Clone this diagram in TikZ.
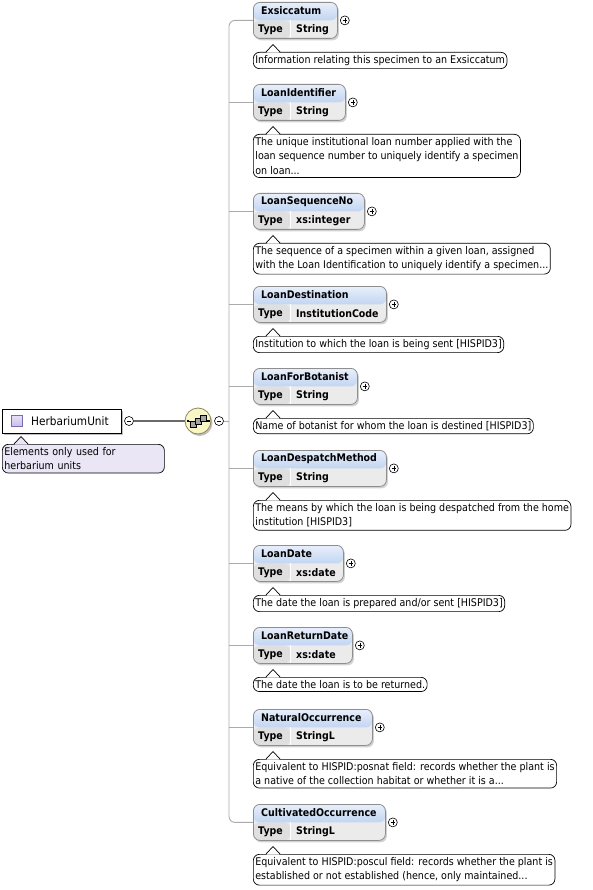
\documentclass[tikz,border=0pt]{standalone}
\usepackage{fontspec}
\setmainfont{DejaVu Sans}
\newfontfamily\narrowfont{DejaVu Sans}[FakeStretch=0.9]
\usetikzlibrary{shadows,calc}

\definecolor{tbtop}{HTML}{E8EFFB}
\definecolor{tbbot}{HTML}{C2D5F2}
\definecolor{typebg}{HTML}{EBEBEB}
\definecolor{typelbl}{HTML}{DFDFDF}
\definecolor{bordergray}{HTML}{8E8E8E}
\definecolor{connline}{HTML}{ABABAB}
\definecolor{darkconn}{HTML}{6A6A6A}
\definecolor{lav}{HTML}{EAE6F5}
\definecolor{seqfill}{HTML}{F9F5C4}
\definecolor{seqedge}{HTML}{8C8660}
\definecolor{iconfill}{HTML}{C9BCEB}
\definecolor{iconedge}{HTML}{7A6AB0}

\tikzset{
  elbox/.style={draw=bordergray, line width=0.8pt, rounded corners=6.5pt,
    minimum height=36pt, inner sep=0pt, anchor=north west,
    drop shadow={shadow xshift=1.5pt, shadow yshift=-2pt, fill=black, opacity=0.18},
    path picture={
      \fill[typebg] (path picture bounding box.south west) rectangle (path picture bounding box.north east);
      \fill[typelbl] (path picture bounding box.south west) rectangle ([xshift=37pt,yshift=18pt]path picture bounding box.south west);
      \shade[top color=tbtop, bottom color=tbbot] (path picture bounding box.north west) rectangle ([yshift=-18pt]path picture bounding box.north east);
      \draw[white, line width=0.6pt] ([xshift=37pt]path picture bounding box.south west) -- ([xshift=37pt,yshift=18pt]path picture bounding box.south west);
    }},
  titletxt/.style={anchor=west, inner sep=0pt, font=\narrowfont\fontsize{10.5}{12}\selectfont\bfseries},
  typetxt/.style={anchor=west, inner sep=0pt, font=\narrowfont\fontsize{10.5}{12}\selectfont\bfseries},
  plusc/.style={circle, draw=black, fill=white, line width=0.6pt, minimum size=9pt, inner sep=0pt,
    path picture={\draw[line width=0.6pt]
      ([xshift=-2.2pt]path picture bounding box.center) -- ([xshift=2.2pt]path picture bounding box.center)
      ([yshift=-2.2pt]path picture bounding box.center) -- ([yshift=2.2pt]path picture bounding box.center);}},
  minusc/.style={circle, draw=black, fill=white, line width=0.6pt, minimum size=9pt, inner sep=0pt,
    path picture={\draw[line width=0.6pt]
      ([xshift=-2.2pt]path picture bounding box.center) -- ([xshift=2.2pt]path picture bounding box.center);}},
  desc/.style={draw=black, line width=0.7pt, fill=white, rounded corners=6pt, anchor=north west,
    align=left, font=\narrowfont\fontsize{10.6}{14.5}\selectfont, inner xsep=2pt, inner ysep=3pt},
  conn/.style={draw=connline, line width=0.9pt},
  hconn/.style={draw=darkconn, line width=1.3pt},
}

\newcommand\xelem[6]{%
  \node[elbox, minimum width=#3pt] (#1) at (253,#2) {};
  \node[titletxt] at ([xshift=8pt,yshift=-9pt]#1.north west) {#4};
  \node[typetxt] at ([xshift=5pt,yshift=9pt]#1.south west) {Type};
  \node[typetxt] at ([xshift=43pt,yshift=9pt]#1.south west) {#5};
  \node[plusc] (#1p) at ([xshift=7pt]#1.east) {};
  \node[desc] (#1d) at (253,#2+50) {#6};
  \fill[white] ([xshift=13.5pt,yshift=-0.6pt]#1d.north west) -- ([xshift=20pt,yshift=7.5pt]#1d.north west) -- ([xshift=26.5pt,yshift=-0.6pt]#1d.north west) -- cycle;
  \draw[line width=0.7pt] ([xshift=13pt]#1d.north west) -- ([xshift=20pt,yshift=7.5pt]#1d.north west) -- ([xshift=27pt]#1d.north west);
}

\begin{document}
\begin{tikzpicture}[x=1pt, y=-1pt]
\fill[white] (0,0) rectangle (592,890);
\useasboundingbox (0,0) rectangle (592,890);

% root element
\node[draw=black, line width=0.8pt, fill=white, minimum width=119pt, minimum height=24pt,
  anchor=north west, inner sep=0pt,
  drop shadow={shadow xshift=1.5pt, shadow yshift=-2pt, fill=black, opacity=0.25}] (hu) at (2,409) {};
\node[draw=iconedge, line width=0.7pt, top color=iconfill!45, bottom color=iconfill, minimum size=11pt, inner sep=0pt] (huicon) at (16.5,421) {};
\node[anchor=west, inner sep=0pt, font=\narrowfont\fontsize{11.7}{13}\selectfont] (hutext) at (31,421) {HerbariumUnit};
\node[minusc] (hum) at (129,421) {};
\node[desc, fill=lav, text width=158pt] (hud) at (2,444) {Elements only used for\\herbarium units};
\fill[lav] ([xshift=12.5pt,yshift=-0.6pt]hud.north west) -- ([xshift=19pt,yshift=7.5pt]hud.north west) -- ([xshift=25.5pt,yshift=-0.6pt]hud.north west) -- cycle;
\draw[line width=0.7pt] ([xshift=12pt]hud.north west) -- ([xshift=19pt,yshift=7.5pt]hud.north west) -- ([xshift=26pt]hud.north west);

% sequence compositor
\node[circle, draw=seqedge, fill=seqfill, line width=0.8pt, minimum size=26pt, inner sep=0pt,
  drop shadow={shadow xshift=1.5pt, shadow yshift=-2pt, fill=black, opacity=0.25}] (seq) at (198,421) {};
\draw[line width=0.7pt] (187.5,421) -- (208.5,421);
\fill (186.5,419.8) rectangle (189,422.3);
\fill (207,419.8) rectangle (209.5,422.3);
\foreach \dx/\dy in {-5/3, 0/0, 5/-3}
  \draw[fill=gray!70, line width=0.5pt] (198+\dx-3,421+\dy-3) rectangle (198+\dx+3,421+\dy+3);
\node[minusc] (seqm) at (219,421) {};
\draw[hconn] (hum) -- (seq);

% child elements
\xelem{e1}{2}{84}{Exsiccatum}{String}{Information relating this specimen to an Exsiccatum}
\xelem{e2}{84}{92}{LoanIdentifier}{String}{The unique institutional loan number applied with the\\loan sequence number to uniquely identify a specimen\\on loan...}
\xelem{e3}{193}{111}{LoanSequenceNo}{xs:integer}{The sequence of a specimen within a given loan, assigned\\with the Loan Identification to uniquely identify a specimen...}
\xelem{e4}{286}{133}{LoanDestination}{InstitutionCode}{Institution to which the loan is being sent [HISPID3]}
\xelem{e5}{368}{104}{LoanForBotanist}{String}{Name of botanist for whom the loan is destined [HISPID3]}
\xelem{e6}{450}{133}{LoanDespatchMethod}{String}{The means by which the loan is being despatched from the home\\institution [HISPID3]}
\xelem{e7}{545}{90}{LoanDate}{xs:date}{The date the loan is prepared and/or sent [HISPID3]}
\xelem{e8}{627}{99}{LoanReturnDate}{xs:date}{The date the loan is to be returned.}
\xelem{e9}{709}{119}{NaturalOccurrence}{StringL}{Equivalent to HISPID:posnat field: records whether the plant is\\a native of the collection habitat or whether it is a...}
\xelem{e10}{804}{132}{CultivatedOccurrence}{StringL}{Equivalent to HISPID:poscul field: records whether the plant is\\established or not established (hence, only maintained...}

% connectors
\coordinate (spine) at (229,421);
\draw[conn, rounded corners=6pt] (e1.west) -| (spine) |- (e10.west);
\foreach \n in {e2,e3,e4,e5,e6,e7,e8,e9}
  \draw[conn] (spine |- \n.west) -- (\n.west);
\draw[conn] (seqm) -- (spine);
\end{tikzpicture}
\end{document}
